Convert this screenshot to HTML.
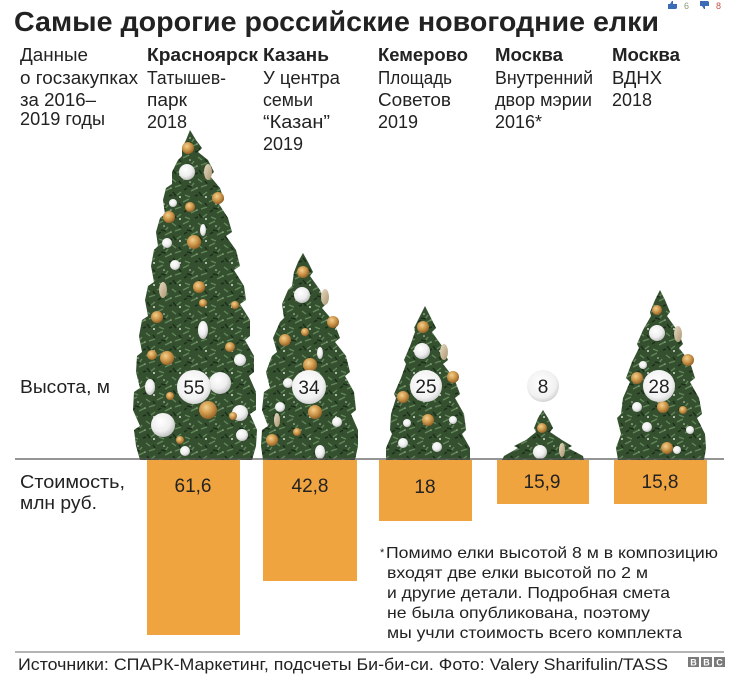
<!DOCTYPE html>
<html><head><meta charset="utf-8">
<style>
html,body{margin:0;padding:0;background:#fff;}
svg{display:block;}
text{font-family:"Liberation Sans","Noto Sans CJK SC",sans-serif;fill:#222;}
</style></head>
<body>
<svg width="737" height="683" viewBox="0 0 737 683" xmlns="http://www.w3.org/2000/svg">
<defs>
<radialGradient id="wb" cx="0.4" cy="0.35" r="0.7"><stop offset="0" stop-color="#ffffff"/><stop offset="0.6" stop-color="#eeeeee"/><stop offset="1" stop-color="#b8b8b8"/></radialGradient>
<radialGradient id="hb" cx="0.45" cy="0.4" r="0.65"><stop offset="0" stop-color="#ffffff"/><stop offset="0.7" stop-color="#f1f1f1"/><stop offset="1" stop-color="#c9c9c9"/></radialGradient>
<radialGradient id="gb" cx="0.4" cy="0.35" r="0.7"><stop offset="0" stop-color="#f3d08f"/><stop offset="0.5" stop-color="#cf984b"/><stop offset="1" stop-color="#8a5a22"/></radialGradient>
<linearGradient id="pc" x1="0" y1="0" x2="1" y2="1"><stop offset="0" stop-color="#e9dcc4"/><stop offset="1" stop-color="#a8946f"/></linearGradient>
<pattern id="tex" width="26" height="22" patternUnits="userSpaceOnUse">
<path d="M1 4 l6 -3 M9 15 l6 -3 M3 19 l5 2 M16 3 l4 3 M19 11 l6 -2 M12 7 l-3 4 M21 19 l4 -3" stroke="#62875a" stroke-width="1.4" fill="none"/>
<path d="M5 10 l5 1 M17 16 l3 4 M23 5 l2 3 M2 14 l3 -2 M13 20 l3 -1" stroke="#1c2f1a" stroke-width="1.5" fill="none"/>
<circle cx="24" cy="21" r="1" fill="#d8dfd2"/>
<circle cx="8" cy="6" r="0.8" fill="#cdd6c6"/>
<circle cx="15" cy="12" r="0.8" fill="#9fb394"/>
</pattern>
</defs>

<!-- Title -->
<text x="14" y="31" font-size="28" font-weight="bold" textLength="645" lengthAdjust="spacingAndGlyphs">Самые дорогие российские новогодние елки</text>

<!-- like/dislike -->
<g>
<path d="M668 9 v-5 h2 l2 -3 h1 v3 h4 v4 l-1 1 z" fill="#3a6cb8"/>
<text x="684" y="9" font-size="9" style="fill:#8a9a7a">6</text>
<path d="M700 1 v5 h2 l2 3 h1 v-3 h4 v-4 l-1 -1 z" fill="#3a6cb8"/>
<text x="716" y="9" font-size="9" style="fill:#c0504d">8</text>
</g>

<!-- Header rows -->
<g font-size="18">
<text x="20" y="61" textLength="68" lengthAdjust="spacingAndGlyphs">Данные</text>
<text x="20" y="84" textLength="118" lengthAdjust="spacingAndGlyphs">о госзакупках</text>
<text x="20" y="106" textLength="76" lengthAdjust="spacingAndGlyphs">за 2016–</text>
<text x="20" y="125" textLength="85" lengthAdjust="spacingAndGlyphs">2019 годы</text>

<text x="147" y="61" font-weight="bold" textLength="111" lengthAdjust="spacingAndGlyphs">Красноярск</text>
<text x="147" y="84" textLength="79" lengthAdjust="spacingAndGlyphs">Татышев-</text>
<text x="147" y="106" textLength="40" lengthAdjust="spacingAndGlyphs">парк</text>
<text x="147" y="128" textLength="40" lengthAdjust="spacingAndGlyphs">2018</text>

<text x="263" y="61" font-weight="bold" textLength="66" lengthAdjust="spacingAndGlyphs">Казань</text>
<text x="263" y="84" textLength="77" lengthAdjust="spacingAndGlyphs">У центра</text>
<text x="263" y="106" textLength="50" lengthAdjust="spacingAndGlyphs">семьи</text>
<text x="263" y="128" textLength="67" lengthAdjust="spacingAndGlyphs">“Казан”</text>
<text x="263" y="150" textLength="40" lengthAdjust="spacingAndGlyphs">2019</text>

<text x="378" y="61" font-weight="bold" textLength="90" lengthAdjust="spacingAndGlyphs">Кемерово</text>
<text x="378" y="84" textLength="74" lengthAdjust="spacingAndGlyphs">Площадь</text>
<text x="378" y="106" textLength="73" lengthAdjust="spacingAndGlyphs">Советов</text>
<text x="378" y="128" textLength="40" lengthAdjust="spacingAndGlyphs">2019</text>

<text x="495" y="61" font-weight="bold" textLength="68" lengthAdjust="spacingAndGlyphs">Москва</text>
<text x="495" y="84" textLength="98" lengthAdjust="spacingAndGlyphs">Внутренний</text>
<text x="495" y="106" textLength="97" lengthAdjust="spacingAndGlyphs">двор мэрии</text>
<text x="495" y="128" textLength="47" lengthAdjust="spacingAndGlyphs">2016*</text>

<text x="612" y="61" font-weight="bold" textLength="68" lengthAdjust="spacingAndGlyphs">Москва</text>
<text x="612" y="84" textLength="50" lengthAdjust="spacingAndGlyphs">ВДНХ</text>
<text x="612" y="106" textLength="40" lengthAdjust="spacingAndGlyphs">2018</text>

<text x="20" y="393" textLength="90" lengthAdjust="spacingAndGlyphs">Высота, м</text>
<text x="20" y="488" textLength="105" lengthAdjust="spacingAndGlyphs">Стоимость,</text>
<text x="20" y="509" textLength="77" lengthAdjust="spacingAndGlyphs">млн руб.</text>
</g>

<!-- Bars -->
<g fill="#efa43f">
<rect x="147" y="460" width="93" height="175"/>
<rect x="263" y="460" width="94" height="121"/>
<rect x="379" y="460" width="93" height="61"/>
<rect x="497" y="460" width="92" height="44"/>
<rect x="614" y="460" width="93" height="44"/>
</g>

<!-- Trees -->
<g>
<polygon fill="#34502f" points="190,130 196,140 202,148 198,152 208,160 214,172 210,176 220,188 224,200 219,204 228,218 232,232 226,236 236,250 240,266 234,270 244,286 246,300 240,304 250,320 250,336 245,340 254,356 254,372 249,376 256,392 256,410 250,414 257,430 256,446 252,460 140,460 136,446 134,430 140,426 133,410 134,392 140,388 136,372 137,356 142,352 139,336 142,320 148,316 145,300 148,286 154,282 151,266 154,250 158,246 156,232 160,218 165,214 163,200 166,188 172,184 172,172 178,160 182,156 182,148 186,140"/>
<polygon fill="url(#tex)" points="190,130 196,140 202,148 198,152 208,160 214,172 210,176 220,188 224,200 219,204 228,218 232,232 226,236 236,250 240,266 234,270 244,286 246,300 240,304 250,320 250,336 245,340 254,356 254,372 249,376 256,392 256,410 250,414 257,430 256,446 252,460 140,460 136,446 134,430 140,426 133,410 134,392 140,388 136,372 137,356 142,352 139,336 142,320 148,316 145,300 148,286 154,282 151,266 154,250 158,246 156,232 160,218 165,214 163,200 166,188 172,184 172,172 178,160 182,156 182,148 186,140"/>

<polygon fill="#34502f" points="303,253 308,262 313,272 310,276 320,290 326,304 322,308 334,322 340,338 335,342 346,356 350,372 345,376 354,392 356,410 351,414 358,430 358,446 355,460 263,460 261,446 262,430 268,426 262,410 264,392 270,388 266,372 272,356 277,352 273,338 280,322 284,318 282,304 288,290 292,286 294,272 298,262"/>
<polygon fill="url(#tex)" points="303,253 308,262 313,272 310,276 320,290 326,304 322,308 334,322 340,338 335,342 346,356 350,372 345,376 354,392 356,410 351,414 358,430 358,446 355,460 263,460 261,446 262,430 268,426 262,410 264,392 270,388 266,372 272,356 277,352 273,338 280,322 284,318 282,304 288,290 292,286 294,272 298,262"/>

<polygon fill="#34502f" points="425,306 430,316 436,328 432,332 442,346 448,360 443,364 454,378 460,394 455,398 464,414 466,430 462,434 470,448 470,460 386,460 386,448 392,434 390,430 391,414 396,398 394,394 401,378 406,364 404,360 410,346 415,332 414,328 420,316"/>
<polygon fill="url(#tex)" points="425,306 430,316 436,328 432,332 442,346 448,360 443,364 454,378 460,394 455,398 464,414 466,430 462,434 470,448 470,460 386,460 386,448 392,434 390,430 391,414 396,398 394,394 401,378 406,364 404,360 410,346 415,332 414,328 420,316"/>

<polygon fill="#34502f" points="543,410 548,418 553,428 550,432 562,440 572,446 568,448 583,456 584,460 502,460 504,456 518,448 514,446 526,440 536,432 534,428 538,418"/>
<polygon fill="url(#tex)" points="543,410 548,418 553,428 550,432 562,440 572,446 568,448 583,456 584,460 502,460 504,456 518,448 514,446 526,440 536,432 534,428 538,418"/>

<polygon fill="#34502f" points="660,290 665,300 670,312 667,316 677,330 683,344 679,348 690,362 695,378 690,382 699,398 702,414 697,418 705,434 706,448 704,460 618,460 616,448 621,434 617,418 621,414 623,398 630,382 626,378 632,362 639,348 637,344 643,330 651,316 650,312 655,300"/>
<polygon fill="url(#tex)" points="660,290 665,300 670,312 667,316 677,330 683,344 679,348 690,362 695,378 690,382 699,398 702,414 697,418 705,434 706,448 704,460 618,460 616,448 621,434 617,418 621,414 623,398 630,382 626,378 632,362 639,348 637,344 643,330 651,316 650,312 655,300"/>
</g>

<!-- Ornaments -->
<g>
<!-- tree 1 -->
<circle cx="188" cy="148" r="6" fill="url(#gb)"/>
<circle cx="187" cy="172" r="8" fill="url(#wb)"/>
<ellipse cx="208" cy="172" rx="4" ry="8" fill="url(#pc)"/>
<circle cx="218" cy="198" r="6" fill="url(#gb)"/>
<circle cx="190" cy="207" r="5" fill="url(#gb)"/>
<circle cx="169" cy="217" r="6" fill="url(#gb)"/>
<circle cx="173" cy="203" r="4" fill="url(#wb)"/>
<ellipse cx="203" cy="230" rx="3" ry="6" fill="url(#wb)"/>
<circle cx="194" cy="242" r="7" fill="url(#gb)"/>
<circle cx="167" cy="243" r="5" fill="url(#wb)"/>
<circle cx="175" cy="265" r="5" fill="url(#wb)"/>
<circle cx="199" cy="287" r="6" fill="url(#gb)"/>
<ellipse cx="163" cy="290" rx="4" ry="8" fill="url(#pc)"/>
<circle cx="203" cy="303" r="4" fill="url(#gb)"/>
<circle cx="157" cy="317" r="6" fill="url(#gb)"/>
<circle cx="235" cy="305" r="4" fill="url(#gb)"/>
<ellipse cx="203" cy="330" rx="5" ry="9" fill="url(#wb)"/>
<circle cx="152" cy="355" r="5" fill="url(#gb)"/>
<circle cx="167" cy="358" r="7" fill="url(#gb)"/>
<circle cx="240" cy="360" r="6" fill="url(#wb)"/>
<circle cx="230" cy="347" r="5" fill="url(#gb)"/>
<circle cx="220" cy="383" r="11" fill="url(#wb)"/>
<ellipse cx="150" cy="387" rx="5" ry="8" fill="url(#wb)"/>
<circle cx="170" cy="396" r="4" fill="url(#gb)"/>
<circle cx="208" cy="410" r="9" fill="url(#gb)"/>
<circle cx="163" cy="425" r="12" fill="url(#wb)"/>
<circle cx="240" cy="413" r="8" fill="url(#wb)"/>
<circle cx="242" cy="435" r="6" fill="url(#wb)"/>
<circle cx="180" cy="440" r="4" fill="url(#gb)"/>
<circle cx="185" cy="451" r="5" fill="url(#wb)"/>
<circle cx="233" cy="416" r="4" fill="url(#gb)"/>
<!-- tree 2 -->
<circle cx="303" cy="272" r="6" fill="url(#gb)"/>
<circle cx="302" cy="295" r="8" fill="url(#wb)"/>
<ellipse cx="325" cy="297" rx="4" ry="8" fill="url(#pc)"/>
<circle cx="333" cy="322" r="6" fill="url(#gb)"/>
<circle cx="285" cy="340" r="6" fill="url(#gb)"/>
<circle cx="305" cy="332" r="4" fill="url(#gb)"/>
<ellipse cx="320" cy="353" rx="3" ry="6" fill="url(#wb)"/>
<circle cx="310" cy="365" r="7" fill="url(#gb)"/>
<circle cx="288" cy="383" r="5" fill="url(#wb)"/>
<circle cx="315" cy="412" r="7" fill="url(#gb)"/>
<circle cx="280" cy="407" r="5" fill="url(#wb)"/>
<circle cx="272" cy="440" r="6" fill="url(#gb)"/>
<ellipse cx="320" cy="452" rx="5" ry="7" fill="url(#wb)"/>
<circle cx="297" cy="432" r="4" fill="url(#gb)"/>
<circle cx="337" cy="422" r="5" fill="url(#wb)"/>
<ellipse cx="277" cy="420" rx="3" ry="7" fill="url(#pc)"/>
<!-- tree 3 -->
<circle cx="423" cy="327" r="6" fill="url(#gb)"/>
<circle cx="422" cy="351" r="8" fill="url(#wb)"/>
<ellipse cx="444" cy="352" rx="4" ry="8" fill="url(#pc)"/>
<circle cx="453" cy="377" r="6" fill="url(#gb)"/>
<circle cx="403" cy="397" r="6" fill="url(#gb)"/>
<circle cx="428" cy="420" r="6" fill="url(#gb)"/>
<circle cx="407" cy="423" r="4" fill="url(#wb)"/>
<circle cx="403" cy="443" r="5" fill="url(#wb)"/>
<circle cx="437" cy="447" r="5" fill="url(#wb)"/>
<circle cx="453" cy="420" r="4" fill="url(#wb)"/>
<!-- tree 4 -->
<circle cx="542" cy="428" r="5" fill="url(#gb)"/>
<circle cx="540" cy="452" r="7" fill="url(#wb)"/>
<ellipse cx="562" cy="450" rx="3" ry="7" fill="url(#pc)"/>
<!-- tree 5 -->
<circle cx="657" cy="310" r="5" fill="url(#gb)"/>
<circle cx="657" cy="333" r="8" fill="url(#wb)"/>
<ellipse cx="678" cy="334" rx="4" ry="8" fill="url(#pc)"/>
<circle cx="688" cy="360" r="6" fill="url(#gb)"/>
<circle cx="643" cy="365" r="4" fill="url(#wb)"/>
<circle cx="637" cy="378" r="6" fill="url(#gb)"/>
<circle cx="663" cy="407" r="6" fill="url(#gb)"/>
<circle cx="637" cy="407" r="5" fill="url(#wb)"/>
<circle cx="683" cy="410" r="4" fill="url(#gb)"/>
<circle cx="647" cy="427" r="5" fill="url(#wb)"/>
<circle cx="667" cy="448" r="6" fill="url(#gb)"/>
<circle cx="690" cy="430" r="4" fill="url(#wb)"/>
<circle cx="677" cy="450" r="4" fill="url(#wb)"/>
</g>

<!-- Height spheres -->
<g>
<circle cx="194" cy="387" r="17" fill="url(#hb)"/>
<circle cx="309" cy="387" r="17" fill="url(#hb)"/>
<circle cx="426" cy="386" r="16" fill="url(#hb)"/>
<circle cx="543" cy="386" r="16" fill="url(#hb)"/>
<circle cx="659" cy="386" r="16" fill="url(#hb)"/>
</g>
<g font-size="19" text-anchor="middle">
<text x="194" y="394">55</text>
<text x="309" y="394">34</text>
<text x="426" y="393">25</text>
<text x="543" y="393">8</text>
<text x="659" y="393">28</text>
</g>

<!-- axis line -->
<line x1="15" y1="459" x2="724" y2="459" stroke="#555" stroke-width="1.3"/>

<!-- bar values -->
<g font-size="19" text-anchor="middle">
<text x="193" y="492">61,6</text>
<text x="310" y="492">42,8</text>
<text x="425" y="493">18</text>
<text x="542" y="488">15,9</text>
<text x="660" y="488">15,8</text>
</g>

<!-- footnote -->
<g font-size="16">
<text x="380" y="556" font-size="11">*</text>
<text x="386" y="558" textLength="332" lengthAdjust="spacingAndGlyphs">Помимо елки высотой 8 м в композицию</text>
<text x="387" y="578" textLength="261" lengthAdjust="spacingAndGlyphs">входят две елки высотой по 2 м</text>
<text x="387" y="598" textLength="283" lengthAdjust="spacingAndGlyphs">и другие детали. Подробная смета</text>
<text x="387" y="618" textLength="263" lengthAdjust="spacingAndGlyphs">не была опубликована, поэтому</text>
<text x="387" y="638" textLength="295" lengthAdjust="spacingAndGlyphs">мы учли стоимость всего комплекта</text>
</g>

<!-- footer -->
<line x1="15" y1="652" x2="724" y2="652" stroke="#888" stroke-width="1.2"/>
<text x="18" y="670" font-size="17" textLength="650" lengthAdjust="spacingAndGlyphs">Источники: СПАРК-Маркетинг, подсчеты Би-би-си. Фото: Valery Sharifulin/TASS</text>
<g>
<rect x="688" y="657" width="11" height="10" fill="#7a7a7a"/>
<rect x="701" y="657" width="11" height="10" fill="#7a7a7a"/>
<rect x="714" y="657" width="11" height="10" fill="#7a7a7a"/>
<g font-size="9" font-weight="bold" text-anchor="middle">
<text x="693.5" y="665.5" style="fill:#fff">B</text>
<text x="706.5" y="665.5" style="fill:#fff">B</text>
<text x="719.5" y="665.5" style="fill:#fff">C</text>
</g>
</g>
</svg>
</body></html>
